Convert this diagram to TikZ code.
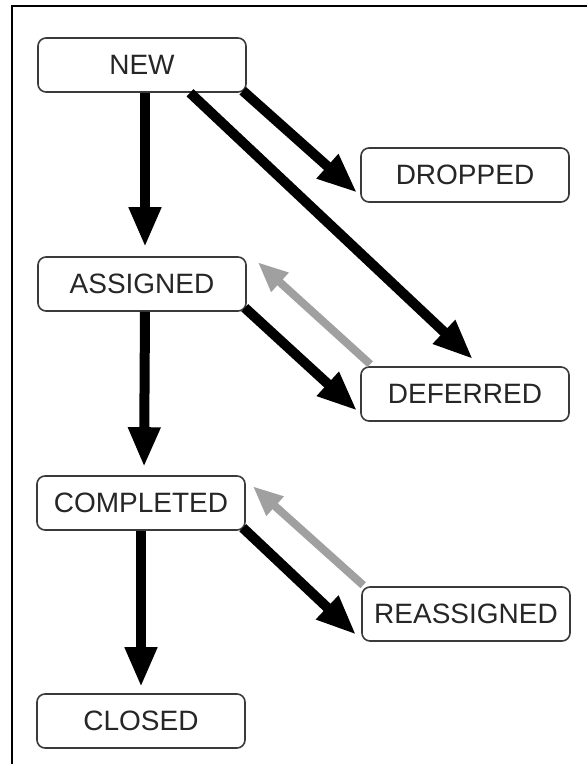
\documentclass[tikz,border=0pt]{standalone}
\usepackage{fontspec}
\setmainfont{Liberation Sans}
\usetikzlibrary{arrows.meta}
\definecolor{boxline}{HTML}{3A3A3A}
\definecolor{backgray}{HTML}{A0A0A0}
\begin{document}
\begin{tikzpicture}[x=1pt,y=-1pt,
  state/.style={draw=boxline,line width=1.6pt,rounded corners=8pt,fill=white,
    minimum width=208pt,minimum height=54pt,inner sep=0pt,
    font=\fontsize{28}{31}\selectfont,text=black!85},
  fwd/.style={line width=10pt,-{Triangle[length=40pt,width=30pt]}},
  back/.style={draw=backgray,line width=8pt,-{Triangle[length=30pt,width=24pt]}}]
\useasboundingbox (0,0) rectangle (587,764);
\fill[white] (0,0) rectangle (587,764);
\draw[line width=2.5pt] (11,6) -- (587,6);
\draw[line width=2.5pt] (12,5) -- (12,764);

\node[state] (new) at (142,65) {NEW};
\node[state] (dropped) at (465,175) {DROPPED};
\node[state] (assigned) at (142,284) {ASSIGNED};
\node[state] (deferred) at (465,394) {DEFERRED};
\node[state] (completed) at (141,503) {COMPLETED};
\node[state] (reassigned) at (466,614) {REASSIGNED};
\node[state] (closed) at (141,721) {CLOSED};

\draw[fwd,shorten >=9pt] ([xshift=3pt]new.south) -- ([xshift=3pt]assigned.north);
\draw[fwd,shorten >=8pt] ([xshift=3pt]assigned.south) -- ([xshift=3pt]completed.north);
\draw[fwd,shorten >=6pt] (completed.south) -- (closed.north);

\draw[fwd] ([shift={(-4,-2)}]new.south east) -- ([shift={(-3,-10)}]dropped.south west);
\draw[fwd] ([shift={(48,0)}]new.south) -- ([shift={(8,-7)}]deferred.north);
\draw[fwd] ([shift={(-2,-4)}]assigned.south east) -- ([shift={(-3,-11)}]deferred.south west);
\draw[back] ([shift={(10,-2)}]deferred.north west) -- ([shift={(11,6)}]assigned.north east);
\draw[fwd] ([shift={(-3,-3)}]completed.south east) -- ([shift={(-5,-7)}]reassigned.south west);
\draw[back] ([shift={(2,-1)}]reassigned.north west) -- ([shift={(7,11)}]completed.north east);
\end{tikzpicture}
\end{document}
